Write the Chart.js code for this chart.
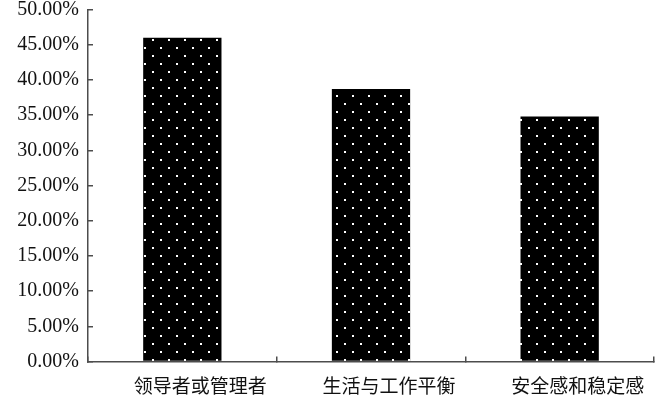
<!DOCTYPE html>
<html>
<head>
<meta charset="utf-8">
<script src="https://cdn.jsdelivr.net/npm/chart.js@4"></script>
<style>
  html, body { margin: 0; padding: 0; background: #fff; }
  #wrap { width: 662px; height: 403px; }
</style>
</head>
<body>
<div id="wrap"><canvas id="chart"></canvas></div>
<script>
const categories = ["领导者或管理者", "生活与工作平衡", "安全感和稳定感"];
const shares = [46.0, 38.7, 34.8];
const yMin = 0;
const yMax = 50;
const yStep = 5;

// black fill with staggered white dots, like the Excel pattern
function dotPattern() {
  const c = document.createElement("canvas");
  c.width = 16;
  c.height = 16;
  const g = c.getContext("2d");
  g.fillStyle = "#000";
  g.fillRect(0, 0, 16, 16);
  g.fillStyle = "#fff";
  g.fillRect(0, 15, 2, 1);
  g.fillRect(0, 0, 2, 1);
  g.fillRect(8, 7, 2, 2);
  return g.createPattern(c, "repeat");
}

const axisColor = "#4d4d4d";

new Chart(document.getElementById("chart"), {
  type: "bar",
  data: {
    labels: categories,
    datasets: [{
      data: shares,
      backgroundColor: dotPattern(),
      borderWidth: 0,
      barPercentage: 1,
      categoryPercentage: 0.415,
    }],
  },
  options: {
    responsive: true,
    maintainAspectRatio: false,
    animation: false,
    layout: { padding: { top: 9.5, right: 8, bottom: 0, left: 0 } },
    plugins: {
      legend: { display: false },
      tooltip: { enabled: false },
    },
    scales: {
      x: {
        grid: {
          offset: true,
          drawOnChartArea: false,
          drawTicks: true,
          tickLength: -5,
          color: axisColor,
          lineWidth: 1.5,
        },
        border: { display: true, color: axisColor, width: 1.5 },
        ticks: {
          color: "#111",
          padding: 18,
          labelOffset: 18,
          maxRotation: 0,
          autoSkip: false,
          font: { family: "'Noto Sans CJK SC'", size: 19 },
        },
        afterFit(scale) {
          scale.height = 41.5;
          scale.paddingLeft = 0;
          scale.paddingRight = 0;
        },
      },
      y: {
        min: yMin,
        max: yMax,
        grid: {
          drawOnChartArea: false,
          drawTicks: true,
          tickLength: -5,
          color: axisColor,
          lineWidth: 1.5,
        },
        border: { display: true, color: axisColor, width: 1.5 },
        ticks: {
          stepSize: yStep,
          color: "#111",
          padding: 14,
          font: { family: "'Liberation Serif'", size: 20 },
          callback: (v) => v.toFixed(2) + "%",
        },
        afterFit(scale) {
          scale.width = 88;
          scale.paddingTop = 0;
          scale.paddingBottom = 0;
        },
      },
    },
  },
});
</script>
</body>
</html>
